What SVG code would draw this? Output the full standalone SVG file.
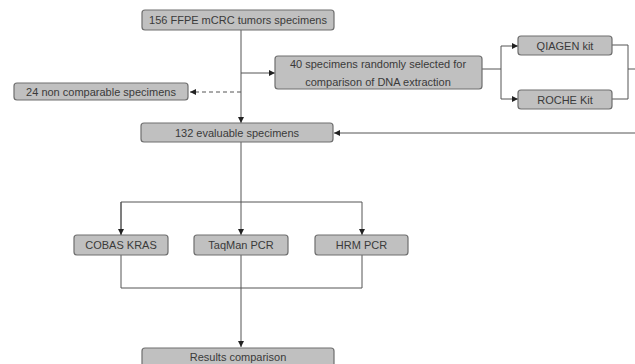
<svg xmlns="http://www.w3.org/2000/svg" width="635" height="364" viewBox="0 0 635 364">
<style>
.box{fill:#c0c0c0;stroke:#6e6e6e;stroke-width:1.2}
.t{font-family:"Liberation Sans",Arial,sans-serif;font-size:11px;fill:#3a3a3a;text-anchor:middle}
.ln{fill:none;stroke:#555;stroke-width:1}
.dash{stroke-dasharray:4,3}
</style>
<defs>
<marker id="ah" viewBox="0 0 6 6" refX="6" refY="3" markerWidth="6" markerHeight="6" markerUnits="userSpaceOnUse" orient="auto">
<path d="M0,0 L6,3 L0,6 Z" fill="#222"/>
</marker>
</defs>
<rect width="635" height="364" fill="#fff"/>
<g id="connectors">
<path class="ln" d="M241,30 V123" marker-end="url(#ah)"/>
<path class="ln" d="M241,73 H275" marker-end="url(#ah)"/>
<path class="ln dash" d="M241,92 H190" marker-end="url(#ah)"/>
<path class="ln" d="M482,69 H501 M501,46 V99"/>
<path class="ln" d="M501,46 H518" marker-end="url(#ah)"/>
<path class="ln" d="M501,99 H518" marker-end="url(#ah)"/>
<path class="ln" d="M612,45 H628 V99 H612 M628,69 H640"/>
<path class="ln" d="M640,133 H334" marker-end="url(#ah)"/>
<path class="ln" d="M241,142 V235" marker-end="url(#ah)"/>
<path class="ln" d="M121,235 V202 H362 V235" marker-end="url(#ah)"/>
<path class="ln" d="M121,202 V235" marker-end="url(#ah)"/>
<path class="ln" d="M121,255 V288 H362 V255"/>
<path class="ln" d="M241,255 V347" marker-end="url(#ah)"/>
</g>
<g id="n1"><rect class="box" x="142" y="10" width="192" height="20" rx="3"/><text class="t" x="238" y="24">156 FFPE mCRC tumors specimens</text></g>
<g id="n2"><rect class="box" x="14" y="83" width="174" height="17" rx="3"/><text class="t" x="101" y="95.5">24 non comparable specimens</text></g>
<g id="n3"><rect class="box" x="275" y="56" width="207" height="33" rx="3"/><text class="t" x="378" y="68">40 specimens randomly selected for</text><text class="t" x="378" y="86">comparison of DNA extraction</text></g>
<g id="n4"><rect class="box" x="518" y="36" width="94" height="19" rx="3"/><text class="t" x="565" y="49.5">QIAGEN kit</text></g>
<g id="n5"><rect class="box" x="518" y="90" width="94" height="19" rx="3"/><text class="t" x="565" y="103.5">ROCHE Kit</text></g>
<g id="n6"><rect class="box" x="141" y="123" width="192" height="19" rx="3"/><text class="t" x="237" y="136.5">132 evaluable specimens</text></g>
<g id="n7"><rect class="box" x="74" y="235" width="94" height="20" rx="3"/><text class="t" x="121" y="249">COBAS KRAS</text></g>
<g id="n8"><rect class="box" x="194" y="235" width="94" height="20" rx="3"/><text class="t" x="241" y="249">TaqMan PCR</text></g>
<g id="n9"><rect class="box" x="315" y="235" width="93" height="20" rx="3"/><text class="t" x="361.5" y="249">HRM PCR</text></g>
<g id="n10"><rect class="box" x="142" y="348" width="192" height="22" rx="3"/><text class="t" x="238" y="361">Results comparison</text></g>
</svg>
